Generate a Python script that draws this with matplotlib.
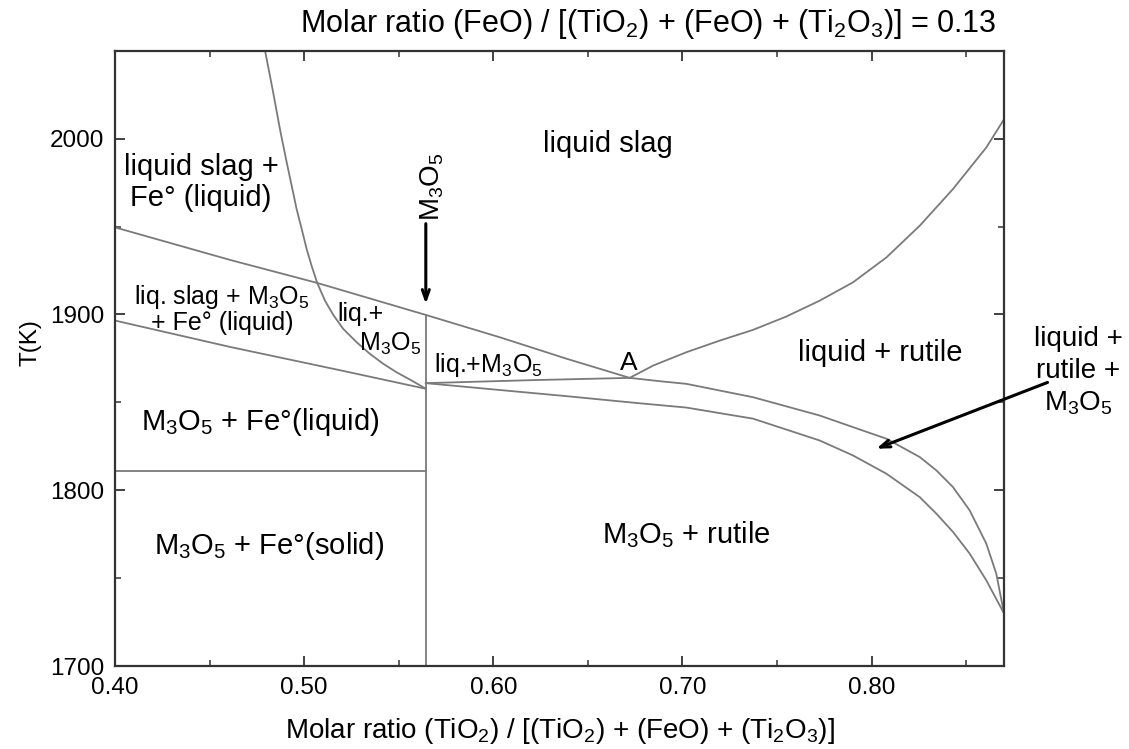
import matplotlib
matplotlib.use('Agg')
import matplotlib.pyplot as plt
from matplotlib.ticker import MultipleLocator, FormatStrFormatter

# Fuente tipo Arial
plt.rcParams['font.family'] = ['Liberation Sans', 'DejaVu Sans']
plt.rcParams['mathtext.fontset'] = 'custom'
plt.rcParams['mathtext.rm'] = 'Liberation Sans'
plt.rcParams['mathtext.it'] = 'Liberation Sans:italic'

# --- Datos leidos del diagrama (x = TiO2 ratio, T en K) ---
# liquidus del lado Fe (curva empinada)
x_fe_liq = [0.4793, 0.4833, 0.4872, 0.4904, 0.4934, 0.4960, 0.4987, 0.5013, 0.5039, 0.5069,
            0.5110, 0.5154, 0.5206, 0.5277, 0.5347, 0.5418, 0.5488, 0.5568, 0.5643]
T_fe_liq = [2050.0, 2028.0, 2005.3, 1988.3, 1973.1, 1959.9, 1948.5, 1937.2, 1927.7, 1917.9,
            1907.8, 1899.7, 1891.8, 1884.2, 1877.6, 1871.9, 1867.1, 1862.4, 1857.7]

# liquidus superior (Fe liquido / M3O5) hasta el punto A
x_sup = [0.40, 0.4608, 0.5069, 0.5643, 0.6034, 0.6387, 0.6721]
T_sup = [1949.5, 1931.0, 1917.9, 1899.7, 1887.0, 1874.8, 1863.9]

x_inf_izq = [0.40, 0.4608, 0.52, 0.5643]
T_inf_izq = [1896.5, 1881.5, 1868.0, 1857.7]

x_liq_m3o5 = [0.5643, 0.62, 0.6721]
T_liq_m3o5 = [1860.9, 1862.6, 1863.9]

# limite M3O5 + rutilo
x_m3o5_rut = [0.5643, 0.6034, 0.6387, 0.6739, 0.7021, 0.7373, 0.7725, 0.7901, 0.8078,
              0.8254, 0.8342, 0.8430, 0.8518, 0.8606, 0.87]
T_m3o5_rut = [1860.9, 1857.0, 1853.5, 1849.8, 1847.0, 1840.7, 1828.3, 1819.8, 1809.4,
              1796.1, 1786.7, 1776.3, 1764.0, 1748.8, 1729.9]

# limite liquido + rutilo / tres fases
x_tres_fases = [0.6721, 0.688, 0.7021, 0.7373, 0.7725, 0.7901, 0.8078, 0.8254, 0.8342,
                0.8430, 0.8518, 0.8606, 0.8659, 0.87]
T_tres_fases = [1863.9, 1862.0, 1860.5, 1852.9, 1842.5, 1835.9, 1829.3, 1818.9, 1811.3,
                1801.8, 1788.6, 1769.7, 1752.6, 1729.9]

# liquidus del rutilo
x_rutilo = [0.6721, 0.6845, 0.7021, 0.7197, 0.7373, 0.7549, 0.7725, 0.7901, 0.8078,
            0.8254, 0.8430, 0.8606, 0.87]
T_rutilo = [1863.9, 1870.9, 1878.5, 1885.1, 1891.2, 1898.8, 1907.8, 1918.2, 1932.4,
            1950.4, 1971.3, 1994.9, 2011.0]

x_m3o5 = 0.5643          # composicion de M3O5 (linea vertical)
T_m3o5_top = 1899.7
T_fe_solid = 1811.0      # solidificacion del Fe
x_ticks = [0.40, 0.50, 0.60, 0.70, 0.80]
T_ticks = [1700, 1800, 1900, 2000]

M3O5 = r'M$\mathregular{_3}$O$\mathregular{_5}$'

fig = plt.figure(figsize=(11.29, 7.49), dpi=100)
ax = fig.add_axes([0.1019, 0.1108, 0.7874, 0.8215])

gris = '#7a7a7a'
lw = 1.3
ax.plot(x_fe_liq, T_fe_liq, color=gris, lw=lw)
ax.plot(x_sup, T_sup, color=gris, lw=lw)
ax.plot(x_inf_izq, T_inf_izq, color=gris, lw=lw)
ax.plot(x_liq_m3o5, T_liq_m3o5, color=gris, lw=lw)
ax.plot(x_m3o5_rut, T_m3o5_rut, color=gris, lw=lw)
ax.plot(x_tres_fases, T_tres_fases, color=gris, lw=lw)
ax.plot(x_rutilo, T_rutilo, color=gris, lw=lw)
ax.plot([x_m3o5, x_m3o5], [1700, T_m3o5_top], color=gris, lw=lw)
ax.plot([0.40, x_m3o5], [T_fe_solid, T_fe_solid], color=gris, lw=lw)

ax.set_xlim(0.40, 0.87)
ax.set_ylim(1700, 2050)
ax.set_xticks(x_ticks)
ax.set_yticks(T_ticks)
ax.xaxis.set_major_formatter(FormatStrFormatter('%.2f'))
ax.xaxis.set_minor_locator(MultipleLocator(0.05))
ax.yaxis.set_minor_locator(MultipleLocator(50))
ax.tick_params(which='both', direction='in', top=True, right=True, labelsize=17.5, color='#333333')
ax.tick_params(which='major', length=7, width=1.3, pad=8)
ax.tick_params(which='minor', length=4, width=1.1)
for s in ax.spines.values():
    s.set_linewidth(1.6)
    s.set_color('#333333')

# Textos de las regiones
fs = 21
ax.text(0.6605, 1997, 'liquid slag', fontsize=fs, ha='center', va='center')
ax.text(0.4455, 1975, 'liquid slag +\nFe° (liquid)', fontsize=fs, ha='center', va='center', linespacing=1.1)
ax.text(0.4565, 1903, 'liq. slag + ' + M3O5 + '\n+ Fe° (liquid)', fontsize=18, ha='center', va='center', linespacing=1.0)
ax.text(0.5300, 1900, 'liq.+', fontsize=18, ha='center', va='center')
ax.text(0.5453, 1883.5, M3O5, fontsize=18, ha='center', va='center')
ax.text(0.5976, 1871, 'liq.+' + M3O5, fontsize=18, ha='center', va='center')
ax.text(0.6716, 1872.5, 'A', fontsize=19, ha='center', va='center')
ax.text(0.4766, 1839, M3O5 + ' + Fe°(liquid)', fontsize=fs, ha='center', va='center')
ax.text(0.4814, 1768, M3O5 + ' + Fe°(solid)', fontsize=fs, ha='center', va='center')
ax.text(0.7022, 1775, M3O5 + ' + rutile', fontsize=fs, ha='center', va='center')
ax.text(0.8048, 1878, 'liquid + rutile', fontsize=fs, ha='center', va='center')
ax.text(0.5675, 1972.6, M3O5, fontsize=20, ha='center', va='center', rotation=90)
ax.text(0.9094, 1867.5, 'liquid +\nrutile +\n' + M3O5, fontsize=20, ha='center', va='center',
        linespacing=1.3, clip_on=False)

# Flechas
flecha = dict(arrowstyle='->, head_length=0.7, head_width=0.25', color='black', lw=2.2, shrinkA=0, shrinkB=0)
ax.annotate('', xy=(x_m3o5, 1906), xytext=(x_m3o5, 1951.6), arrowprops=flecha)
ax.annotate('', xy=(0.8025, 1823.6), xytext=(0.893, 1861.3), arrowprops=flecha, annotation_clip=False)

fig.text(0.883, 0.968, 'Molar ratio (FeO) / [(TiO$\\mathregular{_2}$) + (FeO) + (Ti$\\mathregular{_2}$O$\\mathregular{_3}$)] = 0.13',
         fontsize=22, ha='right', va='center')
ax.set_xlabel('Molar ratio (TiO$\\mathregular{_2}$) / [(TiO$\\mathregular{_2}$) + (FeO) + (Ti$\\mathregular{_2}$O$\\mathregular{_3}$)]',
              fontsize=20, labelpad=12)
fig.text(0.027, 0.543, 'T(K)', fontsize=17.5, rotation=90, ha='center', va='center')

fig.savefig('out.png', dpi=100)
